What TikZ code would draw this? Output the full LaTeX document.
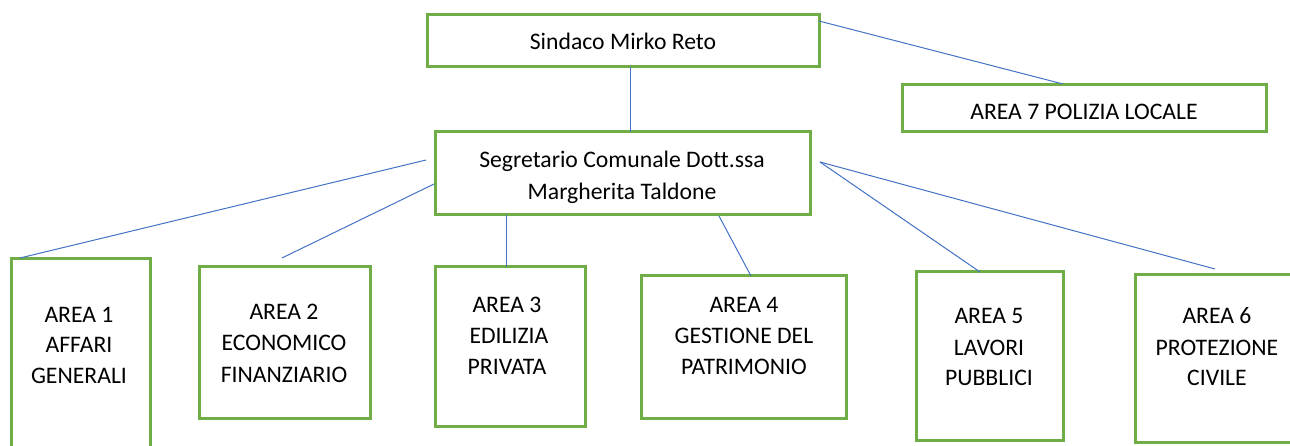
\documentclass[tikz,border=0pt]{standalone}
\usepackage{fontspec}
\setmainfont[Ligatures=NoCommon]{Carlito}
\definecolor{boxgreen}{HTML}{70AD47}
\definecolor{linkblue}{HTML}{4472C4}
\begin{document}
\begin{tikzpicture}[x=1pt,y=-1pt,
  box/.style={draw=boxgreen,line width=3pt,inner sep=0pt,outer sep=0pt,fill=white},
  conn/.style={draw=linkblue,line width=1pt},
  lbl/.style={anchor=base,inner sep=0pt,font=\fontsize{23.7}{31}\selectfont}]
\useasboundingbox[fill=white] (0,0) rectangle (1290,446);
\begin{scope}
\clip (0,0) rectangle (1290,446);
% connector end points
\coordinate (sx) at (630,0);
\coordinate (pA) at (819,21);
\coordinate (pB) at (1063,84);
\coordinate (q1) at (426,160);
\coordinate (e1) at (20,258);
\coordinate (q2) at (434,184);
\coordinate (e2) at (282,258);
\coordinate (q3) at (506,215);
\coordinate (q4) at (719,216);
\coordinate (e4) at (751,276);
\coordinate (q5) at (820,162);
\coordinate (e5) at (980,272);
\coordinate (e6) at (1215,269);
% boxes
\node[box,minimum width=392pt,minimum height=52pt] (sind) at (623,41) {};
\node[box,minimum width=375pt,minimum height=83pt] (segr) at (622.5,173.5) {};
\node[box,minimum width=364pt,minimum height=47pt] (poli) at (1084,108.5) {};
\node[box,minimum width=139pt,minimum height=201pt] (a1) at (80.5,359.5) {};
\node[box,minimum width=171pt,minimum height=151pt] (a2) at (284.5,342.5) {};
\node[box,minimum width=150pt,minimum height=159pt] (a3) at (510,346.5) {};
\node[box,minimum width=205pt,minimum height=142pt] (a4) at (743.5,347) {};
\node[box,minimum width=147pt,minimum height=168pt] (a5) at (989.5,356) {};
\node[box,minimum width=220pt,minimum height=168pt] (a6) at (1245,358.5) {};
% connectors
\draw[conn] (sind.south -| sx) -- (segr.north -| sx);
\draw[conn] (pA) -- (pB);
\draw[conn] (q1) -- (e1);
\draw[conn] (q2) -- (e2);
\draw[conn] (q3) -- (q3 |- a3.north);
\draw[conn] (q4) -- (e4);
\draw[conn] (q5) -- (e5);
\draw[conn] (q5) -- (e6);
% texts
\node[lbl] (t0) at (623,49.5) {Sindaco Mirko Reto};
\node[lbl] (t1) at (622,167.5) {Segretario Comunale Dott.ssa};
\node[lbl] (t2) at (622,199.5) {Margherita Taldone};
\node[lbl] (t3) at (1084,119.5) {AREA 7 POLIZIA LOCALE};
\node[lbl] at (79,322.5) {AREA 1};
\node[lbl] at (79,352.5) {AFFARI};
\node[lbl] at (79,383.5) {GENERALI};
\node[lbl] at (284,319.5) {AREA 2};
\node[lbl] at (284,350.5) {ECONOMICO};
\node[lbl] at (284,382.5) {FINANZIARIO};
\node[lbl] at (507,312.5) {AREA 3};
\node[lbl] at (509,343.5) {EDILIZIA};
\node[lbl] at (507,374.5) {PRIVATA};
\node[lbl] at (744,312.5) {AREA 4};
\node[lbl] at (744,343.5) {GESTIONE DEL};
\node[lbl] at (744,374.5) {PATRIMONIO};
\node[lbl] at (989,323.5) {AREA 5};
\node[lbl] at (989,355.5) {LAVORI};
\node[lbl] at (989,385.5) {PUBBLICI};
\node[lbl] at (1217,323.5) {AREA 6};
\node[lbl] at (1217,355.5) {PROTEZIONE};
\node[lbl] at (1217,385.5) {CIVILE};
\end{scope}
\end{tikzpicture}
\end{document}
